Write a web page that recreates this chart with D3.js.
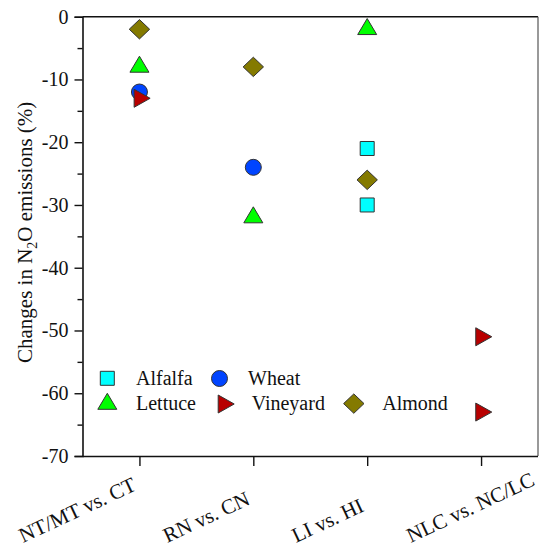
<!DOCTYPE html>
<html>
<head>
<meta charset="utf-8">
<script src="https://cdn.jsdelivr.net/npm/d3@7/dist/d3.min.js"></script>
<style>
  html, body { margin: 0; padding: 0; background: #fff; }
  svg { display: block; }
</style>
</head>
<body>
<div id="chart"></div>
<script>
// Comparison groups along the x axis
const categories = ["NT/MT vs. CT", "RN vs. CN", "LI vs. HI", "NLC vs. NC/LC"];

// Crop series: change in N2O emissions (%) per comparison
const alfalfa  = [{ c: "LI vs. HI", v: -21 }, { c: "LI vs. HI", v: -30 }];
const wheat    = [{ c: "NT/MT vs. CT", v: -12 }, { c: "RN vs. CN", v: -24 }];
const lettuce  = [{ c: "NT/MT vs. CT", v: -8 }, { c: "RN vs. CN", v: -32 }, { c: "LI vs. HI", v: -2 }];
const vineyard = [{ c: "NT/MT vs. CT", v: -13 }, { c: "NLC vs. NC/LC", v: -51 }, { c: "NLC vs. NC/LC", v: -63 }];
const almond   = [{ c: "NT/MT vs. CT", v: -2 }, { c: "RN vs. CN", v: -8 }, { c: "LI vs. HI", v: -26 }];

// Y axis ticks
const yMajorTicks = [0, -10, -20, -30, -40, -50, -60, -70];
const yMinorTicks = [-5, -15, -25, -35, -45, -55, -65];

const FONT = "Liberation Serif";
const W = 539, H = 548;
const plotLeft = 82.5, plotRight = 538, plotTop = 16.7, plotBottom = 456;

const svg = d3.select("#chart").append("svg")
  .attr("width", W).attr("height", H)
  .style("font-family", FONT);

// serif face for a text selection
function serif(sel, size) {
  return sel.style("font-family", FONT).style("font-size", size + "px").attr("fill", "#111");
}

const x = d3.scaleLinear().domain([-0.5, categories.length - 0.5]).range([plotLeft, plotRight]);
const y = d3.scaleLinear().domain([-70, 0]).range([plotBottom, plotTop]);
const xOf = c => x(categories.indexOf(c));

// Marker shapes
const shapes = {
  square:   "M-7,-7H7V7H-7Z",
  circle:   d3.symbol().type(d3.symbolCircle).size(Math.PI * 8 * 8)(),
  triUp:    "M0,-10.7L9.5,5.3L-9.5,5.3Z",
  triRight: "M10.7,0L-5.3,9L-5.3,-9Z",
  diamond:  "M0,-9.7L10.2,0L0,9.7L-10.2,0Z"
};

const series = [
  { name: "Alfalfa",  data: alfalfa,  shape: "square",   fill: "#00ffff" },
  { name: "Wheat",    data: wheat,    shape: "circle",   fill: "#0044ff" },
  { name: "Lettuce",  data: lettuce,  shape: "triUp",    fill: "#00ff00" },
  { name: "Vineyard", data: vineyard, shape: "triRight", fill: "#b80000" },
  { name: "Almond",   data: almond,   shape: "diamond",  fill: "#847a00" }
];

// Frame (top and right)
svg.append("line").attr("x1", plotLeft).attr("x2", plotRight).attr("y1", plotTop).attr("y2", plotTop)
  .attr("stroke", "#111").attr("stroke-width", 1.6);
svg.append("line").attr("x1", plotRight).attr("x2", plotRight).attr("y1", plotTop).attr("y2", plotBottom)
  .attr("stroke", "#555").attr("stroke-width", 1.2);

// Y axis
const yAxis = svg.append("g").attr("transform", `translate(${plotLeft},0)`)
  .call(d3.axisLeft(y).tickValues(yMajorTicks).tickSize(8).tickPadding(6).tickFormat(d => String(d)));
yAxis.attr("font-family", null).attr("font-size", null);
yAxis.select(".domain").attr("stroke", "#111").attr("stroke-width", 1.6);
yAxis.selectAll(".tick line").attr("stroke", "#111").attr("stroke-width", 1.4);
serif(yAxis.selectAll(".tick text"), 20);

svg.append("g").attr("transform", `translate(${plotLeft},0)`)
  .call(d3.axisLeft(y).tickValues(yMinorTicks).tickSize(5).tickFormat(""))
  .call(g => g.select(".domain").remove())
  .selectAll(".tick line").attr("stroke", "#111").attr("stroke-width", 1.4);

// X axis
const xAxis = svg.append("g").attr("transform", `translate(0,${plotBottom})`)
  .call(d3.axisBottom(x).tickValues(d3.range(categories.length)).tickSize(10).tickFormat(""));
xAxis.select(".domain").attr("stroke", "#111").attr("stroke-width", 1.6)
  .attr("d", `M${plotLeft},0.5H${plotRight}`);
xAxis.selectAll(".tick line").attr("stroke", "#111").attr("stroke-width", 1.4);

// Rotated category labels
const angle = 25, rad = angle * Math.PI / 180;
const labelBaseY = 543;
const labels = serif(svg.append("g").selectAll("text").data(categories).join("text")
  .attr("text-anchor", "start")
  .text(d => d), 21);
labels.each(function (d, i) {
  const L = this.getComputedTextLength();
  const nudge = i === categories.length - 1 ? 57 : 0;
  const endX = x(i) - 2 + nudge;
  const sx = endX - L * Math.cos(rad);
  d3.select(this).attr("transform", `translate(${sx},${labelBaseY}) rotate(${-angle})`);
});

// Y axis title with subscript
const yTitle = serif(svg.append("text")
  .attr("transform", `translate(32,${(plotTop + plotBottom) / 2 - 4}) rotate(-90)`)
  .attr("text-anchor", "middle"), 21);
yTitle.append("tspan").text("Changes in N");
yTitle.append("tspan").style("font-size", "14px").attr("dy", 5).text("2");
yTitle.append("tspan").attr("dy", -5).text("O emissions (%)");

// Points
series.forEach(s => {
  svg.append("g").selectAll("path").data(s.data).join("path")
    .attr("d", shapes[s.shape])
    .attr("transform", d => `translate(${xOf(d.c)},${y(d.v)})`)
    .attr("fill", s.fill)
    .attr("stroke", "#333")
    .attr("stroke-width", 1);
});

// Legend
const legendItems = [
  { s: series[0], mx: 107.3, my: 378.3, tx: 136,   ty: 384.5 },
  { s: series[1], mx: 219.5, my: 378.5, tx: 248,   ty: 384.5 },
  { s: series[2], mx: 107.3, my: 404,   tx: 136,   ty: 410 },
  { s: series[3], mx: 223.5, my: 404,   tx: 251.7, ty: 410 },
  { s: series[4], mx: 353.8, my: 403.6, tx: 382.3, ty: 410 }
];
const legend = svg.append("g");
legendItems.forEach(it => {
  legend.append("path")
    .attr("d", shapes[it.s.shape])
    .attr("transform", `translate(${it.mx},${it.my})`)
    .attr("fill", it.s.fill).attr("stroke", "#333").attr("stroke-width", 1);
  serif(legend.append("text").attr("x", it.tx).attr("y", it.ty).text(it.s.name), 20);
});
</script>
</body>
</html>
